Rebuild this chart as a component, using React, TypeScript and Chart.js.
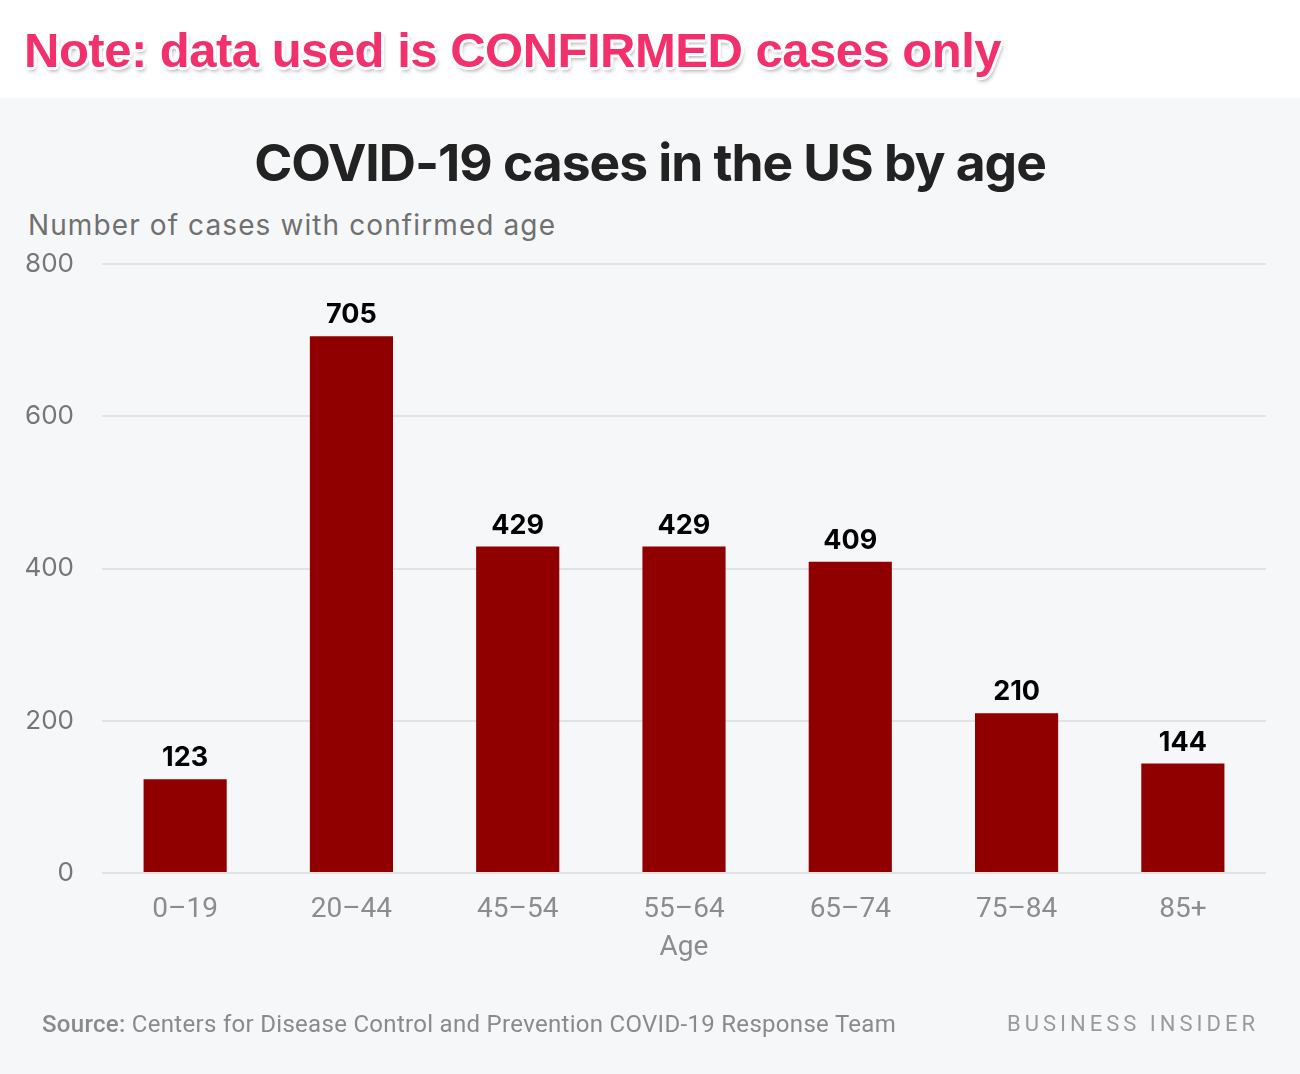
import React, { useEffect, useRef } from "react";
import { Chart, registerables } from "chart.js";

Chart.register(...registerables);

const categories = ["0–19", "20–44", "45–54", "55–64", "65–74", "75–84", "85+"];
const cases = [123, 705, 429, 429, 409, 210, 144];
const yMin = 0;
const yMax = 800;
const yStep = 200;

const noteText = "Note: data used is CONFIRMED cases only";
const titleText = "COVID-19 cases in the US by age";
const subtitleText = "Number of cases with confirmed age";
const xAxisTitle = "Age";
const sourceLabel = "Source:";
const sourceText = " Centers for Disease Control and Prevention COVID-19 Response Team";
const brandText = "BUSINESS INSIDER";

const valueLabelPlugin = {
  id: "valueLabels",
  afterDatasetsDraw(chart: any) {
    const ctx = chart.ctx;
    const meta = chart.getDatasetMeta(0);
    ctx.save();
    ctx.fillStyle = "#000";
    ctx.font = "bold 27px Inter";
    ctx.textAlign = "center";
    ctx.textBaseline = "middle";
    meta.data.forEach((bar: any, i: number) => {
      const v = chart.data.datasets[0].data[i];
      ctx.fillText(String(v), bar.x, bar.y - 21);
    });
    ctx.restore();
  },
};

function BarChart() {
  const ref = useRef<HTMLCanvasElement | null>(null);
  useEffect(() => {
    if (!ref.current) return;
    const chart = new Chart(ref.current, {
      type: "bar",
      data: {
        labels: categories,
        datasets: [
          {
            data: cases,
            backgroundColor: "#900000",
            barPercentage: 0.5,
            categoryPercentage: 1.0,
          },
        ],
      },
      options: {
        animation: false,
        responsive: false,
        events: [],
        layout: { padding: { top: 264, right: 34, bottom: 109, left: 0 } },
        plugins: {
          legend: { display: false },
          tooltip: { enabled: false },
        },
        scales: {
          x: {
            grid: { display: false, drawTicks: false },
            border: { display: false },
            ticks: {
              color: "#8c8c8c",
              font: { family: "Roboto", size: 28 },
              padding: 20,
              maxRotation: 0,
            },
            title: {
              display: true,
              text: xAxisTitle,
              color: "#8c8c8c",
              font: { family: "Roboto", size: 28 },
              padding: 0,
            },
            afterFit: (s: any) => {
              s.height = 92;
            },
          },
          y: {
            min: yMin,
            max: yMax,
            ticks: {
              stepSize: yStep,
              color: "#767676",
              font: { family: "Inter", size: 26 },
              padding: 28,
            },
            grid: { color: "#e2e3e5", lineWidth: 2, drawTicks: false },
            border: { display: false },
            afterFit: (s: any) => {
              s.width = 102;
            },
          },
        },
      },
      plugins: [valueLabelPlugin],
    });
    return () => chart.destroy();
  }, []);
  return (
    <canvas
      ref={ref}
      width={1300}
      height={1074}
      style={{ position: "absolute", left: 0, top: 0, width: 1300, height: 1074 }}
    />
  );
}

export default function App() {
  useEffect(() => {
    document.body.style.margin = "0";
  }, []);
  const shadow = [
    "3px 0 0 #fff",
    "-3px 0 0 #fff",
    "0 3px 0 #fff",
    "0 -3px 0 #fff",
    "2px 2px 0 #fff",
    "-2px 2px 0 #fff",
    "2px -2px 0 #fff",
    "-2px -2px 0 #fff",
    "2px 4px 4px rgba(0,0,0,0.35)",
  ].join(", ");
  return (
    <div
      style={{
        position: "relative",
        width: 1300,
        height: 1074,
        background: "#f6f7f9",
        overflow: "hidden",
      }}
    >
      <div style={{ position: "absolute", left: 0, top: 0, width: 1300, height: 98, background: "#fff" }} />
      <div
        style={{
          position: "absolute",
          left: 24,
          top: 22,
          fontFamily: "'Liberation Sans', Arial, sans-serif",
          fontWeight: 700,
          fontSize: 49,
          lineHeight: "56px",
          color: "#f2306c",
          textShadow: shadow,
          whiteSpace: "nowrap",
          letterSpacing: -0.5,
        }}
      >
        {noteText}
      </div>
      <div
        style={{
          position: "absolute",
          left: 0,
          width: 1300,
          top: 134,
          textAlign: "center",
          fontFamily: "Inter, sans-serif",
          fontWeight: 700,
          fontSize: 51.5,
          lineHeight: "56px",
          color: "#222",
          letterSpacing: -1,
          whiteSpace: "nowrap",
        }}
      >
        {titleText}
      </div>
      <div
        style={{
          position: "absolute",
          left: 28,
          top: 209,
          fontFamily: "Inter, sans-serif",
          fontSize: 28,
          lineHeight: "32px",
          color: "#707070",
          letterSpacing: 1.1,
          whiteSpace: "nowrap",
        }}
      >
        {subtitleText}
      </div>
      <BarChart />
      <div
        style={{
          position: "absolute",
          left: 42,
          top: 1010,
          fontFamily: "Roboto, sans-serif",
          fontSize: 24,
          lineHeight: "28px",
          color: "#8a8a8a",
          letterSpacing: 0.3,
          whiteSpace: "nowrap",
        }}
      >
        <span style={{ fontWeight: 500 }}>{sourceLabel}</span>
        {sourceText}
      </div>
      <div
        style={{
          position: "absolute",
          right: 41,
          top: 1011,
          fontFamily: "Roboto, sans-serif",
          fontSize: 22,
          lineHeight: "26px",
          color: "#9a9a9a",
          letterSpacing: 4,
          whiteSpace: "nowrap",
        }}
      >
        {brandText}
      </div>
    </div>
  );
}
